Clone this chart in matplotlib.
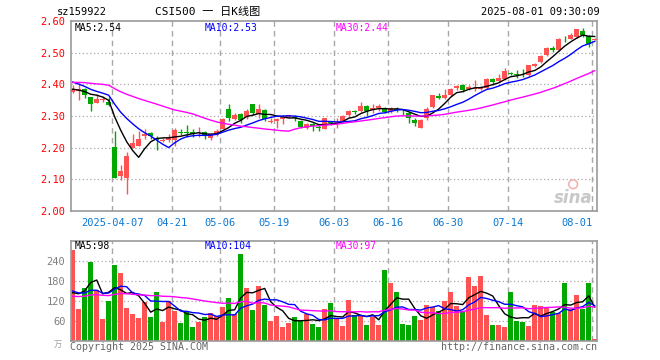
import numpy as np
import matplotlib
matplotlib.use("Agg")
import matplotlib.pyplot as plt
from matplotlib.transforms import blended_transform_factory

# ---- data (sz159922, daily) ----
dates = ["03-26", "03-27", "03-28", "03-31", "04-01", "04-02", "04-03", "04-07", "04-08", "04-09",
         "04-10", "04-11", "04-14", "04-15", "04-16", "04-17", "04-18", "04-21", "04-22", "04-23",
         "04-24", "04-25", "04-28", "04-29", "04-30", "05-06", "05-07", "05-08", "05-09", "05-12",
         "05-13", "05-14", "05-15", "05-16", "05-19", "05-20", "05-21", "05-22", "05-23", "05-26",
         "05-27", "05-28", "05-29", "05-30", "06-03", "06-04", "06-05", "06-06", "06-09", "06-10",
         "06-11", "06-12", "06-13", "06-16", "06-17", "06-18", "06-19", "06-20", "06-23", "06-24",
         "06-25", "06-26", "06-27", "06-30", "07-01", "07-02", "07-03", "07-04", "07-07", "07-08",
         "07-09", "07-10", "07-11", "07-14", "07-15", "07-16", "07-17", "07-18", "07-21", "07-22",
         "07-23", "07-24", "07-25", "07-28", "07-29", "07-30", "07-31", "08-01"]

opens = [2.377, 2.380, 2.385, 2.359, 2.341, 2.351, 2.346, 2.202, 2.111, 2.106,
         2.200, 2.207, 2.238, 2.246, 2.232, 2.221, 2.224, 2.226, 2.249, 2.249,
         2.249, 2.242, 2.249, 2.232, 2.239, 2.258, 2.321, 2.292, 2.307, 2.297,
         2.337, 2.307, 2.318, 2.281, 2.286, 2.292, 2.297, 2.296, 2.284, 2.261,
         2.274, 2.266, 2.260, 2.281, 2.277, 2.284, 2.302, 2.315, 2.316, 2.331,
         2.318, 2.324, 2.324, 2.316, 2.322, 2.317, 2.311, 2.287, 2.263, 2.293,
         2.328, 2.363, 2.356, 2.366, 2.390, 2.397, 2.384, 2.387, 2.384, 2.390,
         2.418, 2.411, 2.416, 2.437, 2.433, 2.431, 2.429, 2.458, 2.471, 2.492,
         2.515, 2.507, 2.550, 2.544, 2.549, 2.570, 2.553, 2.541]
highs = [2.398, 2.403, 2.388, 2.359, 2.370, 2.362, 2.360, 2.254, 2.145, 2.186,
         2.243, 2.254, 2.258, 2.250, 2.236, 2.230, 2.243, 2.261, 2.258, 2.271,
         2.258, 2.265, 2.253, 2.247, 2.258, 2.295, 2.337, 2.311, 2.311, 2.321,
         2.339, 2.337, 2.321, 2.295, 2.295, 2.302, 2.305, 2.303, 2.289, 2.279,
         2.279, 2.274, 2.295, 2.286, 2.293, 2.302, 2.318, 2.319, 2.344, 2.334,
         2.339, 2.337, 2.328, 2.328, 2.328, 2.321, 2.314, 2.295, 2.292, 2.328,
         2.368, 2.374, 2.384, 2.390, 2.398, 2.400, 2.398, 2.413, 2.395, 2.419,
         2.421, 2.432, 2.453, 2.439, 2.444, 2.450, 2.462, 2.469, 2.492, 2.518,
         2.521, 2.546, 2.553, 2.563, 2.576, 2.578, 2.555, 2.546]
lows = [2.372, 2.351, 2.356, 2.315, 2.341, 2.346, 2.331, 2.104, 2.099, 2.054,
        2.200, 2.207, 2.228, 2.229, 2.194, 2.218, 2.218, 2.207, 2.240, 2.235,
        2.235, 2.234, 2.229, 2.226, 2.237, 2.258, 2.283, 2.287, 2.279, 2.292,
        2.303, 2.295, 2.284, 2.279, 2.263, 2.276, 2.295, 2.284, 2.263, 2.258,
        2.253, 2.253, 2.258, 2.272, 2.263, 2.281, 2.297, 2.307, 2.314, 2.299,
        2.311, 2.316, 2.311, 2.311, 2.314, 2.305, 2.279, 2.268, 2.261, 2.289,
        2.326, 2.353, 2.353, 2.363, 2.381, 2.377, 2.381, 2.379, 2.381, 2.387,
        2.398, 2.408, 2.413, 2.429, 2.421, 2.422, 2.427, 2.455, 2.469, 2.490,
        2.502, 2.504, 2.534, 2.542, 2.546, 2.549, 2.518, 2.539]
closes = [2.385, 2.385, 2.367, 2.338, 2.355, 2.355, 2.334, 2.106, 2.128, 2.173,
          2.215, 2.228, 2.242, 2.236, 2.225, 2.225, 2.230, 2.255, 2.247, 2.246,
          2.245, 2.245, 2.237, 2.242, 2.253, 2.292, 2.295, 2.305, 2.287, 2.316,
          2.311, 2.321, 2.292, 2.286, 2.292, 2.298, 2.302, 2.294, 2.266, 2.274,
          2.268, 2.264, 2.293, 2.278, 2.280, 2.299, 2.316, 2.313, 2.331, 2.316,
          2.326, 2.331, 2.314, 2.324, 2.320, 2.315, 2.295, 2.277, 2.289, 2.323,
          2.366, 2.356, 2.366, 2.387, 2.395, 2.382, 2.392, 2.390, 2.390, 2.416,
          2.408, 2.421, 2.442, 2.434, 2.431, 2.429, 2.460, 2.465, 2.490, 2.515,
          2.507, 2.544, 2.548, 2.557, 2.574, 2.555, 2.526, 2.543]
# closes before the visible window (only used for the moving averages)
prior_closes = [2.38, 2.39, 2.40, 2.41, 2.40, 2.42, 2.43, 2.42, 2.41, 2.42,
                2.43, 2.42, 2.41, 2.40, 2.41, 2.42, 2.43, 2.36, 2.37, 2.38,
                2.45, 2.44, 2.43, 2.42, 2.41, 2.40, 2.39, 2.38, 2.37]

# volume (in 10k lots)
volumes = [271, 94, 159, 235, 151, 64, 118, 228, 202, 97,
           79, 67, 115, 70, 145, 55, 120, 88, 52, 90,
           40, 55, 70, 82, 75, 100, 127, 80, 259, 159,
           93, 165, 108, 60, 75, 40, 52, 72, 60, 80,
           50, 40, 96, 112, 64, 44, 121, 76, 76, 46,
           70, 46, 211, 172, 145, 49, 46, 73, 61, 107,
           100, 88, 118, 145, 103, 88, 190, 164, 195, 76,
           46, 46, 40, 146, 58, 55, 45, 108, 103, 97,
           85, 84, 172, 96, 136, 96, 172, 5]
prior_volumes = [120, 130, 125, 110, 135, 140, 120, 115, 130, 125,
                 120, 130, 125, 135, 120, 130, 125, 120, 130, 125,
                 150, 160, 155, 150, 155, 110, 115, 110, 114]

date_ticks = ["04-07", "04-21", "05-06", "05-19", "06-03", "06-16", "06-30", "07-14", "08-01"]
tick_texts = ["2025-04-07", "04-21", "05-06", "05-19", "06-03", "06-16", "06-30", "07-14", "08-01"]
price_ticks = [2.00, 2.10, 2.20, 2.30, 2.40, 2.50, 2.60]
vol_ticks = [60, 120, 180, 240]
price_ma_text = ["MA5:2.54", "MA10:2.53", "MA30:2.44"]
vol_ma_text = ["MA5:98", "MA10:104", "MA30:97"]


def moving_avg(prior, vals, n):
    full = np.array(prior + vals, dtype=float)
    out = np.convolve(full, np.ones(n) / n, mode="valid")
    return out[-len(vals):]


RED = "#ff5353"
GREEN = "#00a800"
GRID = "#a8a8a8"
MA_COLORS = ["black", "#0000ff", "#ff00ff"]
MONO = ["DejaVu Sans Mono", "Noto Sans CJK SC"]

W, H = 660, 360
fig = plt.figure(figsize=(6.6, 3.6), dpi=100)
fig.patch.set_facecolor("white")


def px_axes(left, top, right, bottom):
    return fig.add_axes([left / W, 1 - bottom / H, (right - left) / W, (bottom - top) / H])


ax = px_axes(71, 21, 597, 211.2)
axv = px_axes(71, 240.7, 597, 340.7)

x = np.arange(len(closes))
o = np.array(opens)
c = np.array(closes)
up = c >= o
colors = np.where(up, RED, GREEN)
tick_idx = [dates.index(d) - 0.4 for d in date_ticks]

for a in (ax, axv):
    a.set_xlim(-0.28, len(closes) - 0.62)
    for s in a.spines.values():
        s.set_color("#999999")
        s.set_linewidth(1.2)
    for t in tick_idx:
        a.axvline(t, color=GRID, lw=1, ls=(0, (4, 3)), zorder=0)

# price panel
ax.set_ylim(2.0, 2.6)
for p in price_ticks[1:-1]:
    ax.axhline(p, color=GRID, lw=0.9, ls=(0, (1, 2)), zorder=0)
ax.vlines(x, lows, highs, colors=colors, lw=1, zorder=2)
body = np.maximum(np.abs(c - o), 0.0012)
ax.bar(x, body, bottom=np.minimum(o, c), width=0.8, color=colors, lw=0, zorder=3)
for n, col in zip([5, 10, 30], MA_COLORS):
    ax.plot(x, moving_avg(prior_closes, closes, n), color=col, lw=1, zorder=4)

ax.set_yticks(price_ticks)
ax.set_yticklabels(["%.2f" % p for p in price_ticks], color="red", family=MONO, fontsize=7.5)
ax.set_xticks(tick_idx)
ax.set_xticklabels(tick_texts, color="#0a78d2", family=MONO, fontsize=7.5)
ax.get_xticklabels()[-1].set_ha("right")
ax.tick_params(length=0, pad=5)
ax.tick_params(axis="y", pad=4)

for txt, col, xp in zip(price_ma_text, MA_COLORS, [75, 205, 336]):
    fig.text(xp / W, 1 - 28 / H, txt, color=col, family=MONO, fontsize=7, va="center")

# sina watermark
ax.text(0.955, 0.07, "sina", transform=ax.transAxes, ha="center", va="center",
        fontsize=12, color="#c8c8c8", style="italic", weight="bold", zorder=1)
ax.scatter([len(closes) - 4.6], [2.085], s=40, facecolor="none", edgecolor="#f4b4b4", lw=1.2, zorder=1)

# volume panel
axv.set_ylim(0, 300)
for v in vol_ticks:
    axv.axhline(v, color=GRID, lw=0.9, ls=(0, (1, 2)), zorder=0)
axv.bar(x, volumes, width=0.8, color=colors, lw=0, zorder=2)
for n, col in zip([5, 10, 30], MA_COLORS):
    axv.plot(x, moving_avg(prior_volumes, volumes, n), color=col, lw=1, zorder=4)
axv.set_yticks(vol_ticks)
axv.set_yticklabels([str(v) for v in vol_ticks], color="#808080", family=MONO, fontsize=7.5)
axv.set_xticks([])
axv.tick_params(length=0, pad=4)

for txt, col, xp in zip(vol_ma_text, MA_COLORS, [75, 205, 336]):
    fig.text(xp / W, 1 - 246 / H, txt, color=col, family=MONO, fontsize=7, va="center")

# header / footer
fig.text(57 / W, 1 - 12 / H, "sz159922", family=MONO, fontsize=7.5, va="center")
fig.text(208 / W, 1 - 12 / H, "CSI500 一 日K线图", family=MONO, fontsize=8, va="center", ha="center")
fig.text(600 / W, 1 - 12 / H, "2025-08-01 09:30:09", family=MONO, fontsize=7.5, va="center", ha="right")
fig.text(70 / W, 1 - 347 / H, "Copyright 2025 SINA.COM", family=MONO, fontsize=7.2, va="center", color="#666666")
fig.text(597 / W, 1 - 347 / H, "http://finance.sina.com.cn", family=MONO, fontsize=7.2, va="center",
         ha="right", color="#666666")
fig.text(62 / W, 1 - 344 / H, "万", family=MONO, fontsize=6, va="center", ha="right", color="#a0a0a0")

fig.savefig("out.png", dpi=100)
